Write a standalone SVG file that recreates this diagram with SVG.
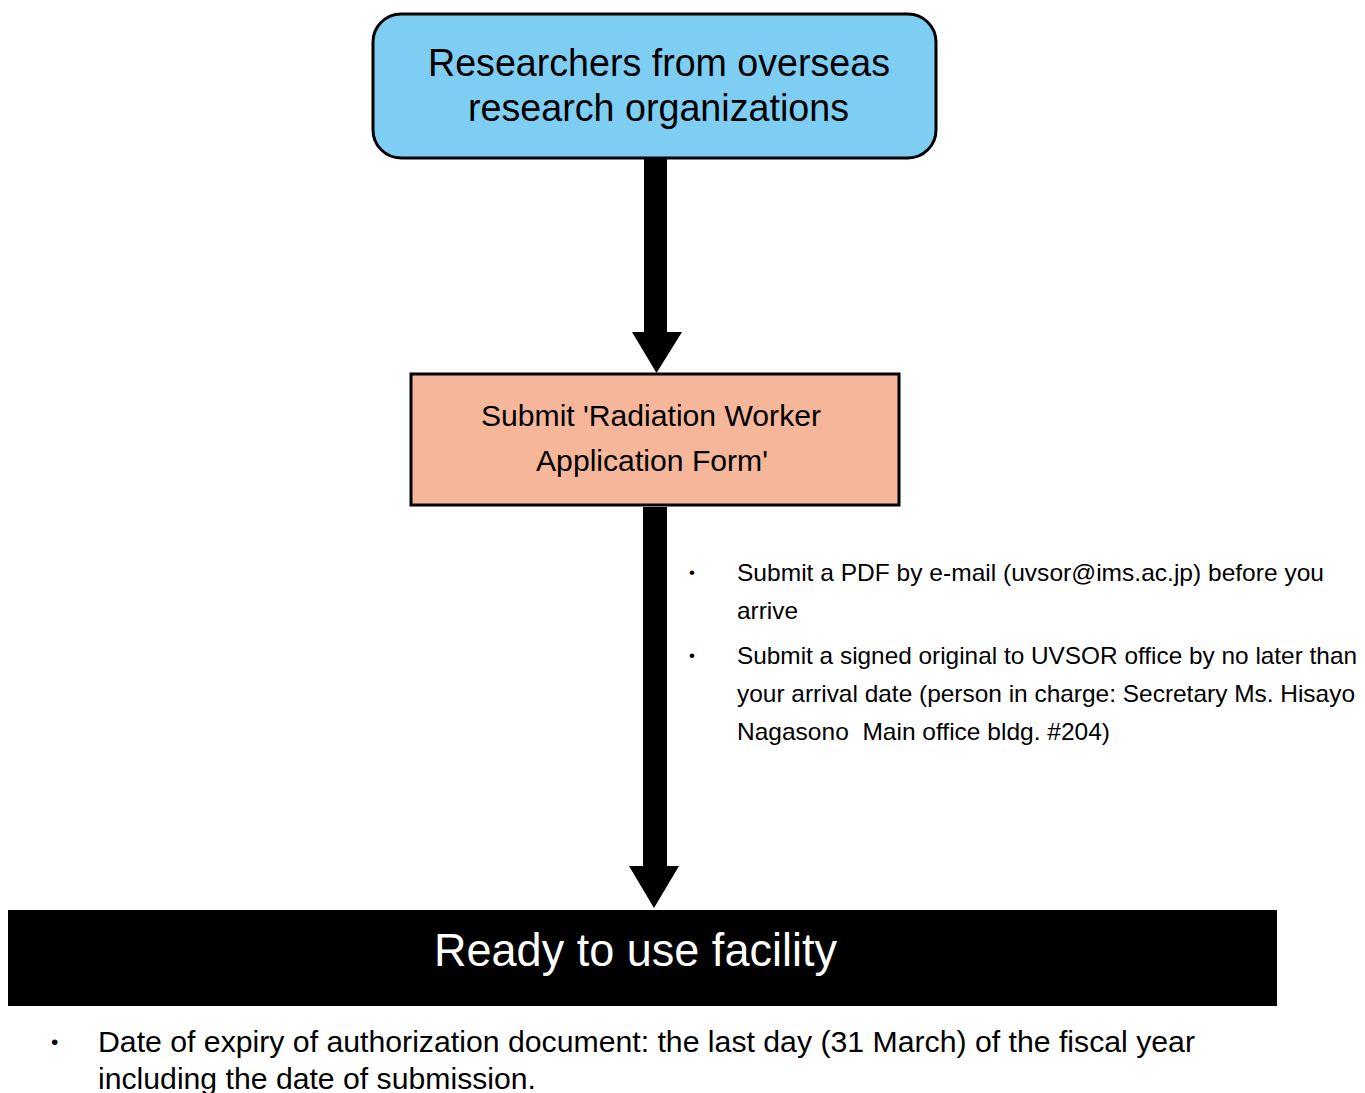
<svg xmlns="http://www.w3.org/2000/svg" width="1365" height="1093" viewBox="0 0 1365 1093">
<style>
text{font-family:"Liberation Sans",Arial,Helvetica,sans-serif;fill:#000;white-space:pre}
.big{font-size:39px}
.mid{font-size:30px}
.note{font-size:24px}
.bul{font-size:17px}
.foot{font-size:30px}
.bulf{font-size:21px}
.ready{font-size:46px;fill:#fff}
</style>
<rect width="1365" height="1093" fill="#fff"/>
<g id="connectors" fill="#000">
<polygon points="644,158 667,158 667,332 682,332 656.5,373 632,332 644,332"/>
<polygon points="643,507 667,507 667,866 679,866 654,908 629,866 643,866"/>
</g>
<g id="node-researchers">
<rect x="373" y="14" width="563" height="144" rx="28" ry="28" fill="#7ECEF4" stroke="#000" stroke-width="3"/>
<text class="big" x="659" y="76" text-anchor="middle" textLength="462" lengthAdjust="spacingAndGlyphs">Researchers from overseas</text>
<text class="big" x="658.5" y="121" text-anchor="middle" textLength="381" lengthAdjust="spacingAndGlyphs">research organizations</text>
</g>
<g id="node-submit">
<rect x="411" y="374" width="488" height="131" fill="#F5B699" stroke="#000" stroke-width="3"/>
<text class="mid" x="651" y="426" text-anchor="middle" textLength="340" lengthAdjust="spacingAndGlyphs">Submit 'Radiation Worker</text>
<text class="mid" x="652" y="471" text-anchor="middle" textLength="232" lengthAdjust="spacingAndGlyphs">Application Form'</text>
</g>
<g id="notes-submit">
<text class="bul" x="689" y="578">•</text>
<text class="note" x="737" y="581" textLength="587" lengthAdjust="spacingAndGlyphs">Submit a PDF by e-mail (uvsor@ims.ac.jp) before you</text>
<text class="note" x="737" y="619" textLength="61" lengthAdjust="spacingAndGlyphs">arrive</text>
<text class="bul" x="689" y="661">•</text>
<text class="note" x="737" y="664" textLength="620" lengthAdjust="spacingAndGlyphs">Submit a signed original to UVSOR office by no later than</text>
<text class="note" x="737" y="702" textLength="618" lengthAdjust="spacingAndGlyphs">your arrival date (person in charge: Secretary Ms. Hisayo</text>
<text class="note" x="737" y="740" textLength="373" lengthAdjust="spacingAndGlyphs">Nagasono  Main office bldg. #204)</text>
</g>
<g id="node-ready">
<rect x="8" y="910" width="1269" height="96" fill="#000"/>
<text class="ready" x="635.5" y="966" text-anchor="middle" textLength="403" lengthAdjust="spacingAndGlyphs">Ready to use facility</text>
</g>
<g id="notes-expiry">
<text class="bulf" x="51" y="1049">•</text>
<text class="foot" x="98" y="1052" textLength="1097" lengthAdjust="spacingAndGlyphs">Date of expiry of authorization document: the last day (31 March) of the fiscal year</text>
<text class="foot" x="98" y="1089" textLength="438" lengthAdjust="spacingAndGlyphs">including the date of submission.</text>
</g>
</svg>
